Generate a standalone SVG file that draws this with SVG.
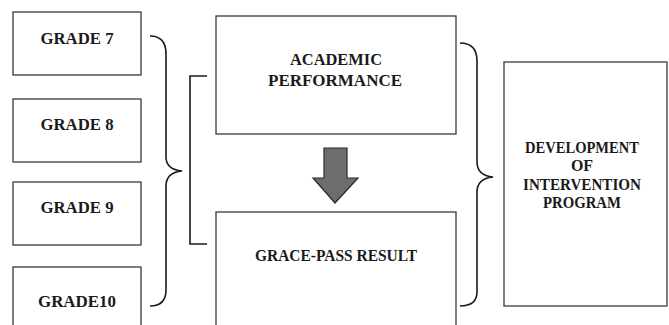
<svg xmlns="http://www.w3.org/2000/svg" width="669" height="325" viewBox="0 0 669 325">
<style>
.box{fill:#fff;stroke:#3a3a3a;stroke-width:1.3}
.t{font-family:"Liberation Serif","Times New Roman",serif;font-weight:bold;font-size:16px;fill:#1a1a1a;text-anchor:middle}
.br{fill:none;stroke:#1a1a1a;stroke-width:1.6}
</style>
<rect width="669" height="325" fill="#fff"/>
<g id="grade7"><rect class="box" x="13" y="12" width="128" height="63"/><text class="t" x="77" y="44" textLength="73" lengthAdjust="spacingAndGlyphs">GRADE 7</text></g>
<g id="grade8"><rect class="box" x="13" y="99" width="128" height="63"/><text class="t" x="77" y="130" textLength="73" lengthAdjust="spacingAndGlyphs">GRADE 8</text></g>
<g id="grade9"><rect class="box" x="13" y="182" width="128" height="63"/><text class="t" x="77" y="213" textLength="73" lengthAdjust="spacingAndGlyphs">GRADE 9</text></g>
<g id="grade10"><rect class="box" x="13" y="267" width="128" height="70"/><text class="t" x="77" y="307" textLength="78" lengthAdjust="spacingAndGlyphs">GRADE10</text></g>
<g id="academic"><rect class="box" x="216" y="16" width="240" height="118"/><text class="t" x="336" y="65" textLength="92" lengthAdjust="spacingAndGlyphs">ACADEMIC</text><text class="t" x="335" y="86" textLength="134" lengthAdjust="spacingAndGlyphs">PERFORMANCE</text></g>
<g id="gracepass"><rect class="box" x="216" y="212" width="240" height="125"/><text class="t" x="336" y="261" textLength="162" lengthAdjust="spacingAndGlyphs">GRACE-PASS RESULT</text></g>
<g id="development"><rect class="box" x="504" y="62" width="163" height="244"/>
<text class="t" x="582" y="153" font-size="15" textLength="114" lengthAdjust="spacingAndGlyphs">DEVELOPMENT</text>
<text class="t" x="582" y="171" font-size="15">OF</text>
<text class="t" x="582" y="190" font-size="15" textLength="118" lengthAdjust="spacingAndGlyphs">INTERVENTION</text>
<text class="t" x="582" y="208" font-size="15" textLength="78" lengthAdjust="spacingAndGlyphs">PROGRAM</text></g>
<g id="connectors">
<path class="br" d="M150,36 C161,36 166,42 166,54 L166,157 C166,166 172,170 182,171 C172,172 166,176 166,186 L166,290 C166,301 161,306 150,306"/>
<path class="br" d="M207,76 L190,76 L190,244 L207,244"/>
<path class="br" d="M460,43 C471,43 477,49 477,61 L477,162 C477,171 483,176 493,177 C483,178 477,183 477,192 L477,292 C477,301 471,306 460,306"/>
<polygon points="324,148 347,148 347,178 358,178 335,203 313,178 324,178" fill="#6d6d6d" stroke="#2a2a2a" stroke-width="1.2"/>
</g>
</svg>
